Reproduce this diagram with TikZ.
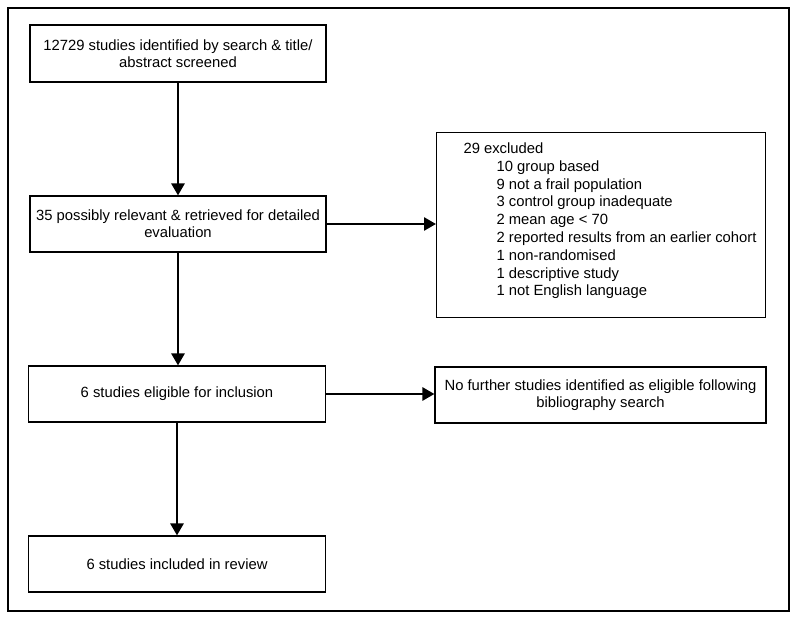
\documentclass[tikz,border=0pt]{standalone}
\usepackage{fontspec}
\setmainfont{Liberation Sans}
\usetikzlibrary{arrows.meta}
\begin{document}
\begin{tikzpicture}[x=1pt,y=-1pt,
  box/.style={draw=black, line width=1.1pt, inner sep=0pt, align=center,
    font=\fontsize{14.8}{16.7}\selectfont},
  arr/.style={line width=2.6pt, -{Triangle[length=12pt,width=13pt]}},
  frame/.style={draw=black, line width=1.1pt}]
\useasboundingbox (0,0) rectangle (800,620);
\draw[frame] (8,8) rectangle (789,611);
\node[box, minimum width=296pt, minimum height=57pt] (b1) at (178,53.5)
  {12729 studies identified by search \& title/\\abstract screened};
\node[box, minimum width=296pt, minimum height=56pt] (b2) at (178,224)
  {35 possibly relevant \& retrieved for detailed\\evaluation};
\node[box, minimum width=297pt, minimum height=56pt] (b3) at (177,394)
  {6 studies eligible for inclusion};
\node[box, minimum width=297pt, minimum height=56pt] (b4) at (177,564)
  {6 studies included in review};
\node[box, minimum width=331pt, minimum height=56pt] (nf) at (600.5,395)
  {No further studies identified as eligible following\\bibliography search};
\node[box, anchor=north west, minimum width=329pt, minimum height=185pt, align=left] (ex) at (436,132)
  {\begin{minipage}[t][185pt][t]{329pt}\setlength{\parindent}{0pt}%
   \fontsize{14.8}{17.8}\selectfont
   \hspace*{27pt}\rule{0pt}{21pt}29 excluded\\
   \hspace*{60pt}10 group based\\
   \hspace*{60pt}9 not a frail population\\
   \hspace*{60pt}3 control group inadequate\\
   \hspace*{60pt}2 mean age < 70\\
   \hspace*{60pt}2 reported results from an earlier cohort\\
   \hspace*{60pt}1 non-randomised\\
   \hspace*{60pt}1 descriptive study\\
   \hspace*{60pt}1 not English language
   \end{minipage}};
\draw[arr] (b1.south) -- (b2.north);
\draw[arr] (b2.south) -- (b2.south |- b3.north);
\draw[arr] (b3.south) -- (b4.north);
\draw[arr] (b2.east) -- (b2.east -| ex.west);
\draw[arr] (b3.east) -- (b3.east -| nf.west);
\end{tikzpicture}
\end{document}
